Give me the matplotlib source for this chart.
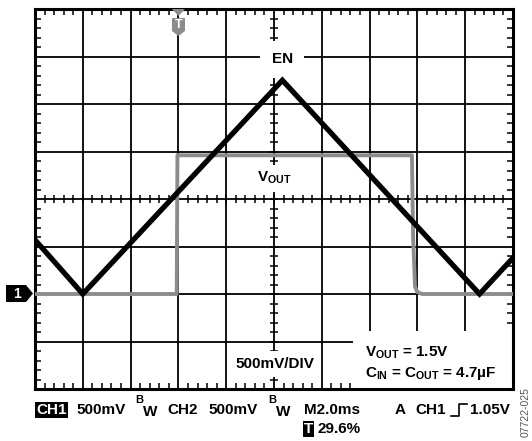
import matplotlib
matplotlib.use("Agg")
import matplotlib.pyplot as plt
import numpy as np
from matplotlib.lines import Line2D
from matplotlib.patches import Polygon

plt.rcParams["font.family"] = ["Liberation Sans", "DejaVu Sans"]
plt.rcParams["font.weight"] = "bold"
plt.rcParams["mathtext.fontset"] = "custom"
plt.rcParams["mathtext.rm"] = "Liberation Sans:bold"
plt.rcParams["mathtext.it"] = "Liberation Sans:bold"
plt.rcParams["mathtext.bf"] = "Liberation Sans:bold"

# EN trace (CH1), time in ms, volts
t_en = [0.0, 2.0, 10.35, 18.6, 20.0]
v_en = [0.57, 0.0, 2.25, 0.0, 0.38]

# VOUT trace (CH2)
t_out = [0.0, 5.93, 5.96, 15.77, 15.82, 15.9, 16.0, 16.2, 20.0]
v_out = [0.0, 0.0, 1.46, 1.46, 0.6, 0.08, 0.02, 0.0, 0.0]

W, H = 532, 441
fx = lambda px: px / W
fy = lambda py: 1 - py / H

fig = plt.figure(figsize=(5.32, 4.41), dpi=100)
ax = fig.add_axes([fx(35), fy(389), fx(513) - fx(35), fy(9) - fy(389)])
ax.set_xlim(0, 20)
ax.set_ylim(-1.0, 3.0)

# graticule
ax.set_xticks(np.arange(0, 20.01, 2))
ax.set_yticks(np.arange(-1.0, 3.01, 0.5))
ax.set_xticks(np.arange(0, 20.01, 0.4), minor=True)
ax.set_yticks(np.arange(-1.0, 3.01, 0.1), minor=True)
ax.grid(True, which="major", color="black", lw=1.3, zorder=1)
ax.tick_params(which="major", length=0, labelbottom=False, labelleft=False)
ax.tick_params(which="minor", direction="in", length=4, width=1.1,
               top=True, right=True, bottom=True, left=True)
for s in ax.spines.values():
    s.set_linewidth(2.2)
    s.set_zorder(6)

# centre crosshair ticks
cx = np.arange(0, 20.01, 0.4)
cy = np.arange(-1.0, 3.01, 0.1)
ax.plot(cx, np.full_like(cx, 1.0), ls="none", marker="|", ms=6, mew=1.1, color="black", zorder=1)
ax.plot(np.full_like(cy, 10.0), cy, ls="none", marker="_", ms=6, mew=1.1, color="black", zorder=1)

# traces
ax.plot(t_out, v_out, color="#8c8c8c", lw=2.8, zorder=7, solid_joinstyle="round")
ax.plot(t_en, v_en, color="black", lw=3.8, zorder=8, solid_joinstyle="miter")

# labels inside the screen
ax.text(10.35, 2.47, "EN", ha="center", va="center", fontsize=11,
        bbox=dict(facecolor="white", edgecolor="none", boxstyle="square,pad=0.75"), zorder=5)
ax.text(10.0, 1.22, r"$V_{OUT}$", ha="center", va="center", fontsize=11,
        bbox=dict(facecolor="white", edgecolor="none", boxstyle="square,pad=0.35"), zorder=5)
ax.text(10.05, -0.74, "500mV/DIV", ha="center", va="center", fontsize=11,
        bbox=dict(facecolor="white", edgecolor="none", boxstyle="square,pad=0.4"), zorder=5)
# white block lower right
ax.add_patch(plt.Rectangle((13.3, -0.99), 6.69, 0.6, facecolor="white", edgecolor="none", zorder=5))
ax.text(13.8, -0.62, r"$V_{OUT}$ = 1.5V", ha="left", va="center", fontsize=11, zorder=6)
ax.text(13.8, -0.84, r"$C_{IN}$ = $C_{OUT}$ = 4.7µF", ha="left", va="center", fontsize=11, zorder=6)

# channel 1 ground marker
mk = Polygon([[fx(6), fy(285)], [fx(26), fy(285)], [fx(33), fy(293.5)], [fx(26), fy(302)], [fx(6), fy(302)]],
             closed=True, transform=fig.transFigure, facecolor="black", edgecolor="none")
fig.patches.append(mk)
fig.text(fx(17), fy(293.5), "1", color="white", ha="center", va="center", fontsize=10)

# trigger position marker
tri = Polygon([[fx(172), fy(9)], [fx(185), fy(9)], [fx(178.5), fy(16)]], closed=True,
              transform=fig.transFigure, facecolor="#8c8c8c", edgecolor="none", zorder=7)
fig.patches.append(tri)
shield = Polygon([[fx(172), fy(18)], [fx(185), fy(18)], [fx(185), fy(31)], [fx(178.5), fy(36)], [fx(172), fy(31)]],
                 closed=True, transform=fig.transFigure, facecolor="#8c8c8c", edgecolor="none", zorder=7)
fig.patches.append(shield)
fig.text(fx(178.5), fy(25.5), "T", color="white", ha="center", va="center", fontsize=9, zorder=9)

# bottom status line
y1 = fy(410)
fig.text(fx(36), y1, "CH1", color="white", ha="left", va="center", fontsize=11,
         bbox=dict(facecolor="black", edgecolor="none", boxstyle="square,pad=0.08"))
fig.text(fx(76), y1, "500mV", ha="left", va="center", fontsize=11)
fig.text(fx(135), fy(400), "B", ha="left", va="center", fontsize=8)
fig.text(fx(143), fy(412), "W", ha="left", va="center", fontsize=11)
fig.text(fx(167), y1, "CH2", ha="left", va="center", fontsize=11)
fig.text(fx(208), y1, "500mV", ha="left", va="center", fontsize=11)
fig.text(fx(268), fy(400), "B", ha="left", va="center", fontsize=8)
fig.text(fx(276), fy(412), "W", ha="left", va="center", fontsize=11)
fig.text(fx(304), y1, "M2.0ms", ha="left", va="center", fontsize=11)
fig.text(fx(395), y1, "A", ha="left", va="center", fontsize=11)
fig.text(fx(415), y1, "CH1", ha="left", va="center", fontsize=11)
edge = Line2D([fx(451), fx(459), fx(459), fx(467)], [fy(416), fy(416), fy(404), fy(404)],
              transform=fig.transFigure, color="black", lw=1.2)
fig.lines.append(edge)
fig.text(fx(470), y1, "1.05V", ha="left", va="center", fontsize=11)

y2 = fy(429)
fig.text(fx(304), y2, "T", color="white", ha="left", va="center", fontsize=11,
         bbox=dict(facecolor="black", edgecolor="none", boxstyle="square,pad=0.08"))
fig.text(fx(318), y2, "29.6%", ha="left", va="center", fontsize=11)

fig.text(fx(526), fy(412), "07722-025", rotation=90, ha="center", va="center",
         fontsize=7.5, fontweight="normal", color="#555555")

fig.savefig("out.png", dpi=100)
